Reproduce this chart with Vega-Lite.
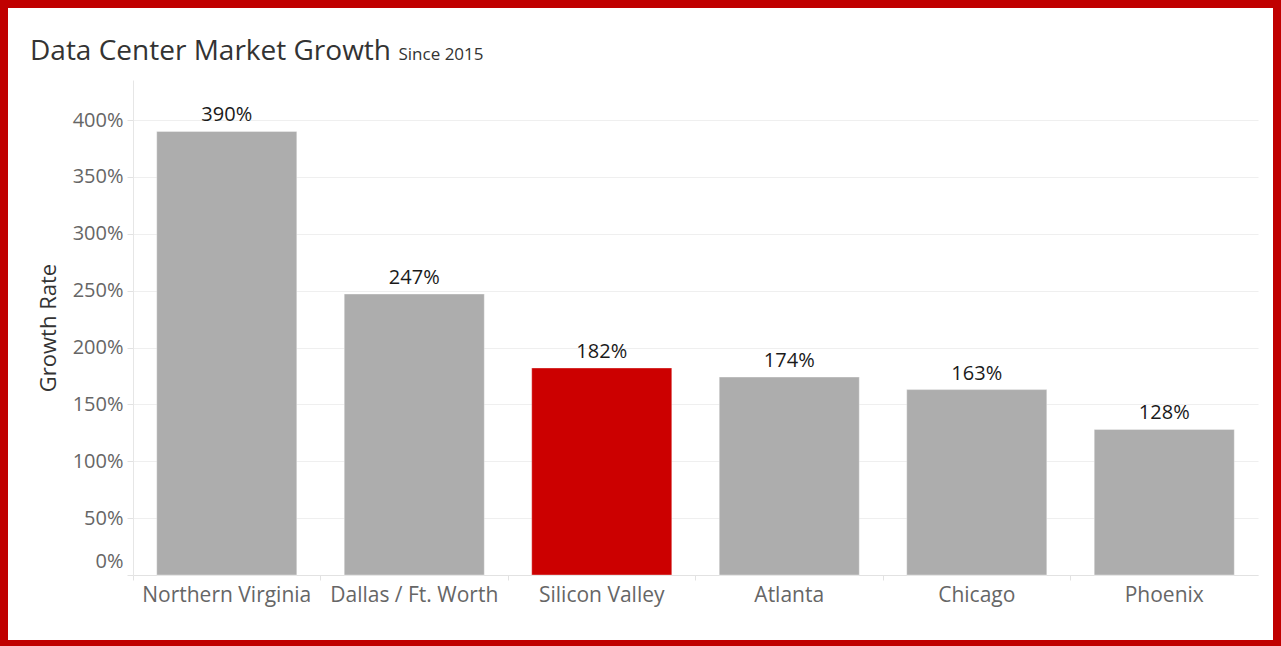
{
  "$schema": "https://vega.github.io/schema/vega-lite/v6.json",
  "width": 1281,
  "height": 648,
  "autosize": "none",
  "padding": 0,
  "background": "white",
  "title": {
    "text": "Data Center Market Growth",
    "anchor": "start",
    "frame": "group",
    "dx": 30,
    "offset": -88,
    "baseline": "alphabetic",
    "font": "Open Sans",
    "fontSize": 28,
    "fontWeight": "normal",
    "color": "#333333"
  },
  "data": {
    "values": [
      {"market": "Northern Virginia", "growth": 3.90},
      {"market": "Dallas / Ft. Worth", "growth": 2.47},
      {"market": "Silicon Valley", "growth": 1.82},
      {"market": "Atlanta", "growth": 1.74},
      {"market": "Chicago", "growth": 1.63},
      {"market": "Phoenix", "growth": 1.28}
    ]
  },
  "layer": [
    {
      "mark": {"type": "bar", "width": {"band": 0.747}, "stroke": "#ffffff", "strokeOpacity": 0.35, "strokeWidth": 1},
      "encoding": {
        "x": {
          "field": "market",
          "type": "nominal",
          "sort": null,
          "scale": {"range": [133, 1258], "paddingInner": 0, "paddingOuter": 0},
          "axis": {
            "title": null,
            "orient": "bottom",
            "offset": -73,
            "bandPosition": 0,
            "labelAngle": 0,
            "labelFont": "Open Sans",
            "labelFontSize": 21,
            "labelColor": "#666666",
            "labelPadding": 4,
            "tickColor": "#e2e2e2",
            "tickSize": 5,
            "domainColor": "#e2e2e2",
            "grid": false
          }
        },
        "y": {
          "field": "growth",
          "type": "quantitative",
          "scale": {"domain": [0, 4.352], "range": [575, 80], "nice": false, "zero": true},
          "axis": {
            "title": "Growth Rate",
            "orient": "left",
            "offset": -133,
            "values": [0, 0.5, 1, 1.5, 2, 2.5, 3, 3.5, 4],
            "format": ".0%",
            "labelFont": "Open Sans",
            "labelFontSize": 20,
            "labelColor": "#666666",
            "labelPadding": 4,
            "labelBaseline": {"condition": {"test": "datum.value === 0", "value": "alphabetic"}, "value": "middle"},
            "labelOffset": {"condition": {"test": "datum.value === 0", "value": -8}, "value": 0},
            "tickColor": "#e2e2e2",
            "tickSize": 6,
            "domainColor": "#e6e6e6",
            "grid": true,
            "gridColor": "#efefef",
            "titleFont": "Open Sans",
            "titleFontSize": 22,
            "titleFontWeight": "normal",
            "titleColor": "#333333",
            "titlePadding": 12
          }
        },
        "color": {
          "condition": {"test": "datum.market === 'Silicon Valley'", "value": "#cc0000"},
          "value": "#adadad"
        }
      }
    },
    {
      "mark": {"type": "text", "baseline": "alphabetic", "dy": -10, "font": "Open Sans", "fontSize": 20, "color": "#1a1a1a"},
      "encoding": {
        "x": {
          "field": "market",
          "type": "nominal",
          "sort": null,
          "axis": {
            "orient": "top",
            "title": "Since 2015",
            "labels": false,
            "ticks": false,
            "domain": false,
            "grid": false,
            "titleX": 398,
            "titleY": 59,
            "titleAnchor": "start",
            "titleAlign": "left",
            "titleAngle": 0,
            "titleBaseline": "alphabetic",
            "titleFont": "Open Sans",
            "titleFontSize": 17,
            "titleFontWeight": "normal",
            "titleColor": "#333333"
          }
        },
        "y": {"field": "growth", "type": "quantitative"},
        "text": {"field": "growth", "type": "quantitative", "format": ".0%"}
      }
    }
  ],
  "resolve": {"axis": {"x": "independent"}},
  "config": {
    "view": {"stroke": "#c00000", "strokeWidth": 16}
  }
}
